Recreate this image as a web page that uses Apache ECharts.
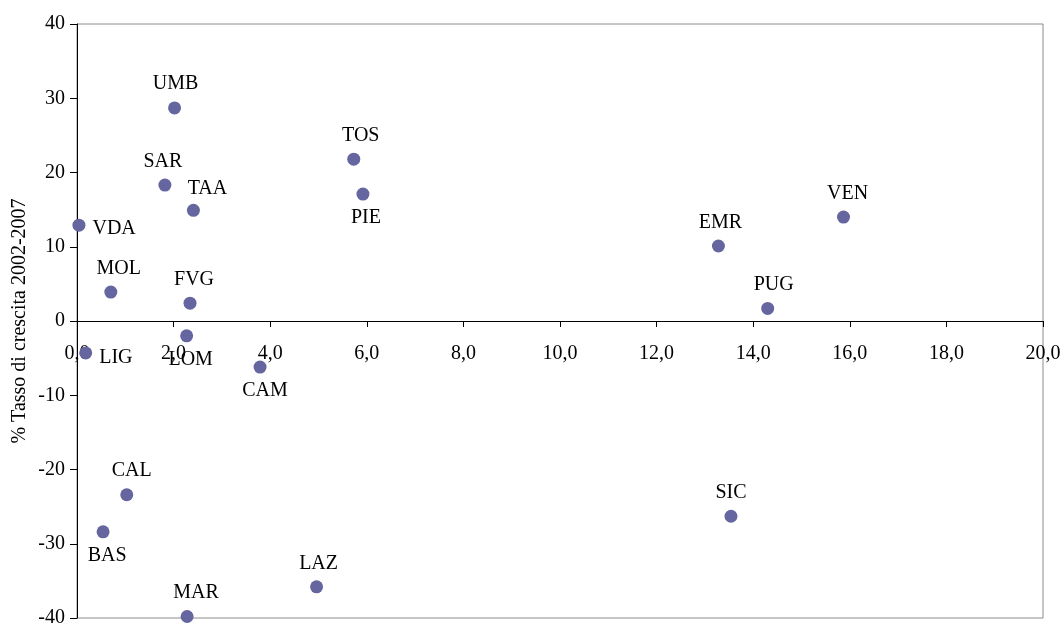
<!DOCTYPE html>
<html>
<head>
<meta charset="utf-8">
<script src="https://cdn.jsdelivr.net/npm/echarts@6/dist/echarts.min.js"></script>
<style>html,body{margin:0;padding:0;background:#fff}#c{width:1063px;height:624px}</style>
</head>
<body>
<div id="c"></div>
<script>
// Data
const regions = ['VDA','LIG','MOL','UMB','SAR','TAA','FVG','LOM','CAM','TOS','PIE','EMR','VEN','PUG','SIC','LAZ','MAR','CAL','BAS'];
const xValues = [0.04, 0.18, 0.70, 2.02, 1.82, 2.41, 2.34, 2.27, 3.79, 5.73, 5.92, 13.28, 15.87, 14.30, 13.54, 4.96, 2.28, 1.03, 0.54];
const yValues = [12.9, -4.3, 3.9, 28.7, 18.3, 14.9, 2.4, -2.0, -6.2, 21.8, 17.1, 10.1, 14.0, 1.7, -26.3, -35.8, -39.8, -23.4, -28.4];
const xTicks = [0, 2, 4, 6, 8, 10, 12, 14, 16, 18, 20];
const yTicks = [-40, -30, -20, -10, 0, 10, 20, 30, 40];
const yAxisTitle = '% Tasso di crescita 2002-2007';

// Label placement (style only): position and pixel shift [dx, dy]
const labelStyle = {
  VDA: {position: 'right', shift: [0, 4]},
  LIG: {position: 'right', shift: [0, 5]},
  UMB: {position: 'top', shift: [1, -1]},
  SAR: {position: 'top', shift: [-2, 0]},
  TAA: {position: 'top', shift: [14, 2]},
  MOL: {position: 'top', shift: [8, 0]},
  FVG: {position: 'top', shift: [4, 0]},
  LOM: {position: 'bottom', shift: [4, 0]},
  CAM: {position: 'bottom', shift: [5, 0]},
  CAL: {position: 'top', shift: [5, 0]},
  BAS: {position: 'bottom', shift: [4, 0]},
  MAR: {position: 'top', shift: [9, 0]},
  LAZ: {position: 'top', shift: [2, 0]},
  SIC: {position: 'top', shift: [0, 0]},
  EMR: {position: 'top', shift: [2, 0]},
  VEN: {position: 'top', shift: [4, 0]},
  PUG: {position: 'top', shift: [6, 0]},
  TOS: {position: 'top', shift: [7, 0]},
  PIE: {position: 'bottom', shift: [3, 0]}
};

const FONT = '"Liberation Serif", "DejaVu Serif", serif';
const GRID = {left: 77, right: 20, top: 24, bottom: 6};
const H = 624 - GRID.top - GRID.bottom;
const yMin = yTicks[0], yMax = yTicks[yTicks.length - 1];
// distance from grid bottom to the y = 0 line (x axis crosses at zero)
const zeroOffset = -H * (0 - yMin) / (yMax - yMin);

const points = regions.map((n, i) => ({
  name: n,
  value: [xValues[i], yValues[i]],
  label: {position: labelStyle[n].position}
}));

const chart = echarts.init(document.getElementById('c'), null, {renderer: 'canvas'});
chart.setOption({
  animation: false,
  backgroundColor: '#fff',
  grid: Object.assign({}, GRID, {show: true, borderColor: '#8c8c8c', borderWidth: 1, backgroundColor: 'transparent', containLabel: false, outerBoundsMode: 'none'}),
  xAxis: {
    type: 'value', min: xTicks[0], max: xTicks[xTicks.length - 1], interval: 2,
    position: 'bottom', offset: zeroOffset,
    axisLine: {onZero: false, lineStyle: {color: '#000', width: 1}},
    axisTick: {show: true, inside: false, length: 6, lineStyle: {color: '#000'}},
    axisLabel: {margin: 23, color: '#000', fontFamily: FONT, fontSize: 20,
      formatter: v => v.toFixed(1).replace('.', ','), showMaxLabel: true, showMinLabel: true, hideOverlap: false},
    splitLine: {show: false}
  },
  yAxis: {
    type: 'value', min: yMin, max: yMax, interval: 10,
    name: yAxisTitle, nameLocation: 'middle', nameGap: 47, nameRotate: 90, nameMoveOverlap: false,
    nameTextStyle: {color: '#000', fontFamily: FONT, fontSize: 20},
    axisLine: {show: true, onZero: false, lineStyle: {color: '#000', width: 1}},
    axisTick: {show: true, inside: false, length: 7, lineStyle: {color: '#000'}},
    axisLabel: {margin: 12, color: '#000', fontFamily: FONT, fontSize: 20, hideOverlap: false},
    splitLine: {show: false}
  },
  series: [{
    type: 'scatter',
    symbol: 'circle',
    symbolSize: 13,
    itemStyle: {color: '#65659f', opacity: 1},
    label: {show: true, formatter: '{b}', color: '#000', fontFamily: FONT, fontSize: 20, distance: 7},
    labelLayout: function (p) {
      const s = labelStyle[regions[p.dataIndex]].shift;
      return {dx: s[0], dy: s[1], hideOverlap: false};
    },
    data: points
  }]
});
</script>
</body>
</html>
